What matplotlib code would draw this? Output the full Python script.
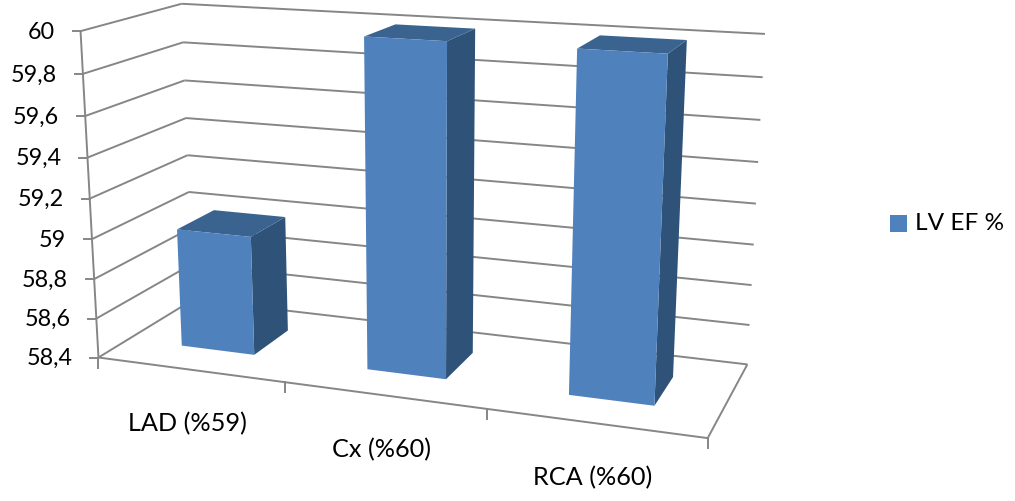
#LV EF % by coronary territory - 3D column chart drawn with a fitted perspective camera

import matplotlib
matplotlib.use("Agg")
import matplotlib.pyplot as plt
from matplotlib.patches import Polygon, Rectangle
import numpy as np

#data
categories = ["LAD (%59)", "Cx (%60)", "RCA (%60)"]
values = [59, 60, 60]
series_name = "LV EF %"
y_ticks = [58.4, 58.6, 58.8, 59, 59.2, 59.4, 59.6, 59.8, 60]
y_labels = ["58,4", "58,6", "58,8", "59", "59,2", "59,4", "59,6", "59,8", "60"]

YMIN, YMAX = y_ticks[0], y_ticks[-1]
NCAT = len(categories)

# Camera calibration: (category pos, depth, value) -> pixel
# box edges get more weight than the column corners
wall_pts = [
    (0, 0, 60, 80, 31.5), (0, 0, 59.8, 83, 73.5), (0, 0, 59.6, 85, 115.7),
    (0, 0, 59.4, 88, 157), (0, 0, 59.2, 90, 198.5), (0, 0, 59, 92, 239.5),
    (0, 0, 58.8, 95, 279.5), (0, 0, 58.6, 96.5, 319), (0, 0, 58.4, 98.3, 357.3),
    (0, 1, 60, 181.7, 4.0), (0, 1, 59.8, 183.3, 42.7), (0, 1, 59.6, 184.3, 80.7),
    (0, 1, 59.4, 186, 117.7), (0, 1, 59.2, 187.3, 154.7), (0, 1, 59, 189, 191.7),
    (0, 1, 58.4, 193, 300),
    (3, 1, 60, 765, 34), (3, 1, 59.8, 762.7, 77.3), (3, 1, 59.6, 760.7, 120.7),
    (3, 1, 59.4, 758.3, 162.7), (3, 1, 59.2, 756, 203.3), (3, 1, 59, 753.3, 245),
    (3, 1, 58.8, 751.7, 284.3), (3, 1, 58.6, 750, 325), (3, 1, 58.4, 747.3, 364),
    (3, 0, 58.4, 707.7, 437.7), (1, 0, 58.4, 284.3, 383.3), (2, 0, 58.4, 486.7, 409.3),
]
bar_pts = [
    (0.3, 0.3, 58.4, 180.7, 345.3), (0.7, 0.3, 58.4, 254.3, 354.7),
    (0.7, 0.7, 58.4, 287.7, 330), (0.3, 0.3, 59, 177.3, 228.7),
    (0.7, 0.3, 59, 251, 236), (0.7, 0.7, 59, 286, 217.3),
    (0.3, 0.7, 59, 213.3, 210), (1.3, 0.3, 60, 363.3, 36),
    (1.7, 0.3, 60, 447.3, 40.7), (1.7, 0.7, 60, 475.7, 29),
    (1.3, 0.7, 60, 395, 24), (1.3, 0.3, 58.4, 367, 369.3),
    (1.7, 0.3, 58.4, 446, 379.3), (1.7, 0.7, 58.4, 472.7, 353.3),
    (2.3, 0.3, 60, 576.7, 48.3), (2.7, 0.3, 60, 668.3, 52.7),
    (2.7, 0.7, 60, 686.7, 40.7), (2.3, 0.7, 60, 599, 35),
    (2.3, 0.3, 58.4, 568.3, 394.7), (2.7, 0.3, 58.4, 654.3, 405),
    (2.7, 0.7, 58.4, 672.7, 376.7),
]


def fit_camera(pts):
    rows = []
    for x, d, v, px, py in pts:
        h = [x, d, (v - YMIN) / (YMAX - YMIN), 1.0]
        u, w = px / 1000.0, py / 1000.0
        rows.append(h + [0, 0, 0, 0] + [-u * _ for _ in h])
        rows.append([0, 0, 0, 0] + h + [-w * _ for _ in h])
    return np.linalg.svd(np.array(rows))[2][-1].reshape(3, 4)


P = fit_camera(wall_pts * 3 + bar_pts)


def project(x, d, v):
    s = P @ np.array([x, d, (v - YMIN) / (YMAX - YMIN), 1.0])
    return s[0] / s[2] * 1000.0, s[1] / s[2] * 1000.0


fig = plt.figure(figsize=(10.15, 5.01), dpi=100)
ax = fig.add_axes([0, 0, 1, 1])
ax.set_xlim(0, 1015)
ax.set_ylim(501, 0)
ax.axis("off")

plt.rcParams["font.family"] = "Lato"
GREY = "#868686"


def line3(a, b, lw=1.4):
    pa, pb = project(*a), project(*b)
    ax.plot([pa[0], pb[0]], [pa[1], pb[1]], color=GREY, lw=lw, solid_capstyle="butt", zorder=1)


# walls
for v, lab in zip(y_ticks, y_labels):
    line3((0, 0, v), (0, 1, v))
    line3((0, 1, v), (NCAT, 1, v))
    tx, ty = project(0, 0, v)
    ax.plot([tx - 8, tx], [ty, ty], color=GREY, lw=1.4, zorder=1)
    ax.text(tx - 26, ty + 1, lab, ha="right", va="center", fontsize=16.8, color="black")

# axes + floor
line3((0, 0, YMIN), (0, 0, YMAX))
line3((0, 0, YMIN), (NCAT, 0, YMIN))
line3((NCAT, 0, YMIN), (NCAT, 1, YMIN))
for i in range(NCAT + 1):
    tx, ty = project(i, 0, YMIN)
    ax.plot([tx, tx], [ty, ty + 10], color=GREY, lw=1.4, zorder=1)

# columns, gap width/depth 150%
for i, val in enumerate(values):
    x0, x1 = i + 0.3, i + 0.7
    d0, d1 = 0.3, 0.7
    side = [project(x1, d0, YMIN), project(x1, d1, YMIN), project(x1, d1, val), project(x1, d0, val)]
    top = [project(x0, d0, val), project(x1, d0, val), project(x1, d1, val), project(x0, d1, val)]
    front = [project(x0, d0, YMIN), project(x1, d0, YMIN), project(x1, d0, val), project(x0, d0, val)]
    ax.add_patch(Polygon(side, closed=True, fc="#2F5279", ec="none", zorder=3))
    ax.add_patch(Polygon(top, closed=True, fc="#3B6390", ec="none", zorder=3))
    ax.add_patch(Polygon(front, closed=True, fc="#4F81BD", ec="none", zorder=4))

# category labels
for i, cat in enumerate(categories):
    cx, cy = project(i + 0.5, 0, YMIN)
    ax.text(cx - 2, cy + 54, cat, ha="center", va="center", fontsize=18.2, color="black")

# legend
ax.add_patch(Rectangle((890, 215), 16.7, 16.7, fc="#4F81BD", ec="none"))
ax.text(915, 223.5, series_name, ha="left", va="center", fontsize=17.6, color="black")

fig.savefig("out.png", dpi=100)
